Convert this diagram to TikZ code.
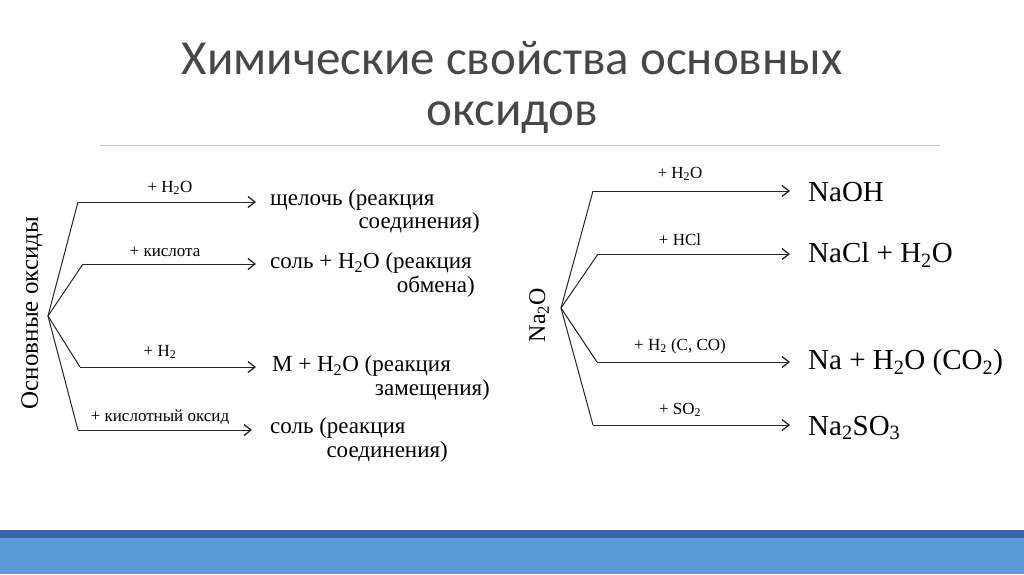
\documentclass[tikz,border=0pt]{standalone}
\usepackage{fontspec}
\setmainfont{Liberation Serif}
\newfontfamily\titlefont{Carlito}
\usetikzlibrary{arrows.meta}
\definecolor{barblue}{HTML}{5B9BD5}
\definecolor{bardark}{HTML}{3A66A8}
\begin{document}
\begin{tikzpicture}[x=1pt,y=-1pt,
  br/.style={draw=black!85,line width=1pt},
  arr/.style={draw=black!85,line width=1pt,-{Straight Barb[length=7pt,width=11pt,line width=1.3pt]}},
  lab/.style={font=\fontsize{17}{18}\selectfont,inner sep=1pt},
  res/.style={font=\fontsize{23}{24}\selectfont,inner sep=0pt,anchor=west},
  res2/.style={font=\fontsize{23}{24}\selectfont,inner sep=0pt,anchor=east},
  resR/.style={font=\fontsize{29}{31}\selectfont,inner sep=0pt,anchor=west}]
\useasboundingbox (0,0) rectangle (1024,574);
\fill[white] (0,0) rectangle (1024,574);
% title
\node[font=\titlefont\fontsize{49}{51}\selectfont,text=black!72,align=center] (title) at (512,87) {Химические свойства основных\\оксидов};
\draw[black!25,line width=0.7pt] (100,145) -- (940,145);
% bottom bar
\fill[bardark] (0,530) rectangle (1024,538);
\fill[barblue] (0,538) rectangle (1024,574);
% left diagram
\node[rotate=90,font=\fontsize{25}{26}\selectfont] (oo) at (32,313) {Основные оксиды};
\coordinate (L) at (48,316);
\coordinate (l1) at (78,202); \coordinate (l2) at (83,264);
\coordinate (l3) at (80,367); \coordinate (l4) at (78,430);
\coordinate (e1) at (256,202); \coordinate (e2) at (256,264);
\coordinate (e3) at (256,367); \coordinate (e4) at (252,430);
\foreach \i in {1,2,3,4}{\draw[br] (L) -- (l\i); \draw[arr] (l\i) -- (e\i);}
\node[lab] (a1) at (170,188) {+ H\textsubscript{2}O};
\node[lab] (a2) at (165,252) {+ кислота};
\node[lab] (a3) at (160,352) {+ H\textsubscript{2}};
\node[lab] (a4) at (160,417) {+ кислотный оксид};
\node[res] (r1) at (270,200) {щелочь (реакция};
\node[res2] (r1b) at (480,223) {соединения)};
\node[res] (r2) at (270,263) {соль + H\textsubscript{2}O (реакция};
\node[res2] (r2b) at (475,287) {обмена)};
\node[res] (r3) at (272,366) {M + H\textsubscript{2}O (реакция};
\node[res2] (r3b) at (490,390) {замещения)};
\node[res] (r4) at (270,428) {соль (реакция};
\node[res2] (r4b) at (448,452) {соединения)};
% right diagram
\node[rotate=90,font=\fontsize{24}{26}\selectfont] (na) at (539,315) {Na\textsubscript{2}O};
\coordinate (R) at (561,308);
\coordinate (m1) at (593,191); \coordinate (m2) at (598,254);
\coordinate (m3) at (597,362); \coordinate (m4) at (593,425);
\coordinate (f1) at (790,191); \coordinate (f2) at (790,254);
\coordinate (f3) at (790,362); \coordinate (f4) at (790,425);
\foreach \i in {1,2,3,4}{\draw[br] (R) -- (m\i); \draw[arr] (m\i) -- (f\i);}
\node[lab] (b1) at (680,174) {+ H\textsubscript{2}O};
\node[lab] (b2) at (680,240) {+ HCl};
\node[lab] (b3) at (680,346) {+ H\textsubscript{2} (C, CO)};
\node[lab] (b4) at (680,410) {+ SO\textsubscript{2}};
\node[resR] (s1) at (808,192) {NaOH};
\node[resR] (s2) at (808,255) {NaCl + H\textsubscript{2}O};
\node[resR] (s3) at (808,363) {Na + H\textsubscript{2}O (CO\textsubscript{2})};
\node[resR] (s4) at (808,428) {Na\textsubscript{2}SO\textsubscript{3}};
\end{tikzpicture}
\end{document}
